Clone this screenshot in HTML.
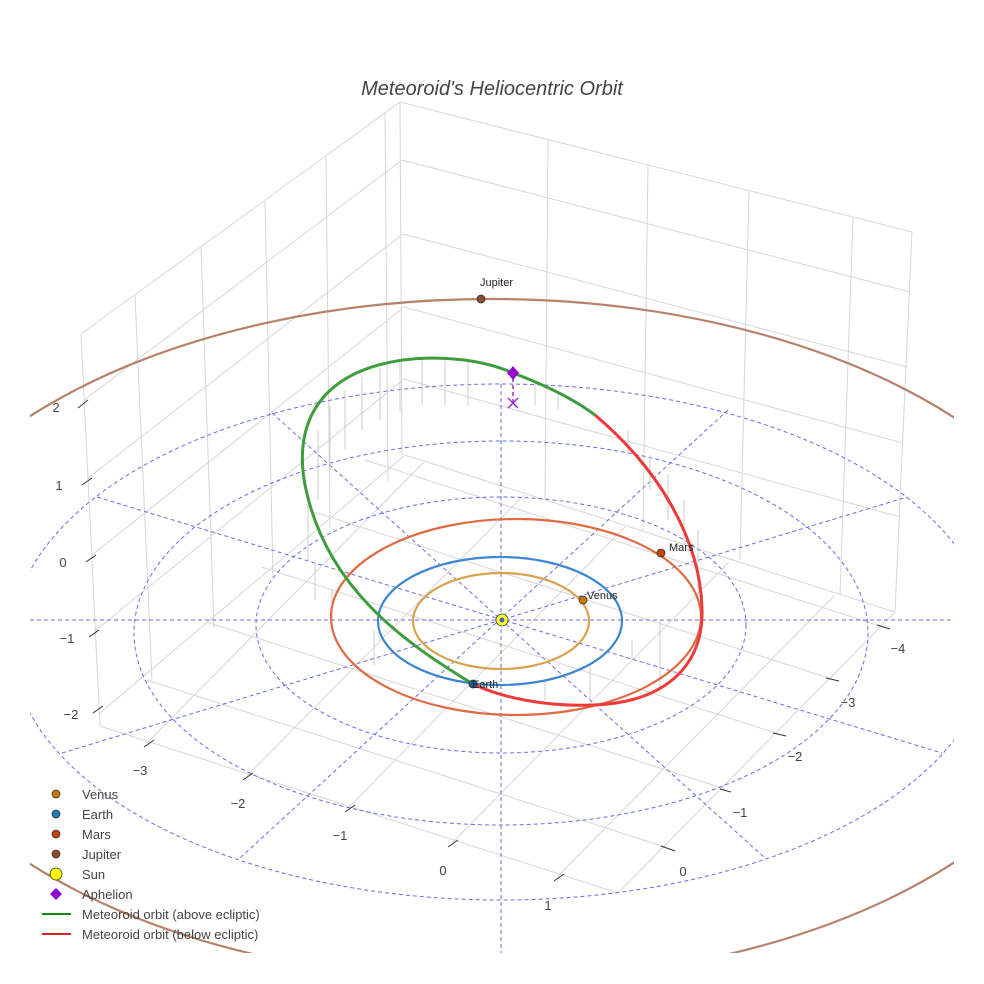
<!DOCTYPE html>
<html><head><meta charset="utf-8"><style>
html,body{margin:0;padding:0;background:#fff;}
svg{display:block;font-family:"Liberation Sans",sans-serif;}
</style></head><body>
<svg width="984" height="984" viewBox="0 0 984 984" xmlns="http://www.w3.org/2000/svg">
<defs><clipPath id="c"><rect x="30" y="0" width="924" height="953"/></clipPath></defs>
<rect width="984" height="984" fill="#fff"/>
<text x="492" y="95" text-anchor="middle" font-size="20" font-style="italic" fill="#444">Meteoroid's Heliocentric Orbit</text>
<g clip-path="url(#c)">
<!-- box walls -->
<g stroke="#d6d6d6" stroke-width="1" fill="none">
<polyline points="81,334 400,102 912,232"/>
<line x1="400" y1="102" x2="402" y2="455"/>
<line x1="81" y1="334" x2="100" y2="726"/>
<line x1="912" y1="232" x2="895" y2="612"/>
<line x1="135" y1="296" x2="152" y2="680"/>
<line x1="201" y1="248" x2="214" y2="628"/>
<line x1="265" y1="201" x2="273" y2="578"/>
<line x1="326" y1="157" x2="330" y2="528"/>
<line x1="385" y1="113" x2="388" y2="482"/>
<line x1="548" y1="140" x2="545" y2="500"/>
<line x1="648" y1="165" x2="643" y2="530"/>
<line x1="749" y1="190" x2="740" y2="560"/>
<line x1="853" y1="217" x2="840" y2="595"/>
<line x1="84" y1="400" x2="402" y2="160"/>
<line x1="88" y1="478" x2="403" y2="234"/>
<line x1="92" y1="555" x2="404" y2="307"/>
<line x1="96" y1="630" x2="404" y2="379"/>
<line x1="100" y1="713" x2="405" y2="455"/>
<line x1="402" y1="160" x2="910" y2="292"/>
<line x1="403" y1="234" x2="907" y2="367"/>
<line x1="404" y1="307" x2="903" y2="443"/>
<line x1="404" y1="379" x2="900" y2="517"/>
<line x1="405" y1="455" x2="895" y2="612"/>
<!-- floor -->
<polyline points="100,726 618,893 895,612"/>
<line x1="147" y1="743" x2="424" y2="462"/>
<line x1="247" y1="776" x2="524" y2="495"/>
<line x1="348" y1="808" x2="625" y2="527"/>
<line x1="452" y1="843" x2="729" y2="562"/>
<line x1="557" y1="877" x2="834" y2="596"/>
<line x1="665" y1="847" x2="147" y2="680"/>
<line x1="725" y1="789" x2="207" y2="622"/>
<line x1="779" y1="734" x2="261" y2="567"/>
<line x1="832" y1="679" x2="314" y2="512"/>
<line x1="883" y1="627" x2="365" y2="460"/>
</g>
<!-- ticks -->
<g stroke="#333" stroke-width="1">
<line x1="78" y1="408" x2="88" y2="400"/>
<line x1="82" y1="485" x2="92" y2="478"/>
<line x1="86" y1="562" x2="96" y2="555"/>
<line x1="89" y1="637" x2="99" y2="630"/>
<line x1="93" y1="713" x2="103" y2="706"/>
<line x1="144" y1="747" x2="154" y2="740"/>
<line x1="243" y1="780" x2="253" y2="773"/>
<line x1="345" y1="812" x2="355" y2="805"/>
<line x1="448" y1="847" x2="458" y2="840"/>
<line x1="554" y1="881" x2="564" y2="874"/>
<line x1="661" y1="846" x2="675" y2="851"/>
<line x1="720" y1="789" x2="731" y2="792"/>
<line x1="773" y1="733" x2="786" y2="736"/>
<line x1="826" y1="678" x2="839" y2="681"/>
<line x1="877" y1="625" x2="890" y2="629"/>
</g>
<g font-size="13" fill="#444" text-anchor="middle">
<text x="56" y="412">2</text><text x="59" y="490">1</text><text x="63" y="567">0</text>
<text x="67" y="643">−1</text><text x="71" y="719">−2</text>
<text x="140" y="775">−3</text><text x="238" y="808">−2</text><text x="340" y="840">−1</text>
<text x="443" y="875">0</text><text x="548" y="910">1</text>
<text x="683" y="876">0</text><text x="740" y="817">−1</text><text x="795" y="761">−2</text>
<text x="848" y="707">−3</text><text x="898" y="653">−4</text>
</g>
<!-- dashed ecliptic grid -->
<g stroke="#6a6ae6" stroke-width="1" stroke-dasharray="4,3" fill="none">
<ellipse cx="501" cy="625" rx="245" ry="128"/>
<ellipse cx="501" cy="633" rx="367" ry="192"/>
<ellipse cx="501" cy="642" rx="490" ry="258"/>
<line x1="30" y1="620" x2="954" y2="620"/>
<line x1="501" y1="384" x2="501" y2="953"/>
<line x1="272" y1="413" x2="765" y2="858"/>
<line x1="728" y1="410" x2="240" y2="858"/>
<line x1="97" y1="497" x2="942" y2="753"/>
<line x1="62" y1="753" x2="907" y2="497"/>
</g>
<!-- drop lines -->
<g stroke="#ccc" stroke-width="1">
<line x1="318" y1="430" x2="318" y2="500"/><line x1="330" y1="405" x2="330" y2="470"/>
<line x1="345" y1="390" x2="345" y2="450"/><line x1="362" y1="377" x2="362" y2="430"/>
<line x1="380" y1="368" x2="380" y2="420"/><line x1="400" y1="362" x2="400" y2="412"/>
<line x1="422" y1="359" x2="422" y2="405"/><line x1="445" y1="360" x2="445" y2="405"/>
<line x1="468" y1="362" x2="468" y2="405"/><line x1="535" y1="382" x2="535" y2="405"/>
<line x1="558" y1="393" x2="558" y2="410"/><line x1="628" y1="430" x2="628" y2="455"/>
<line x1="650" y1="455" x2="650" y2="490"/><line x1="668" y1="475" x2="668" y2="520"/>
<line x1="684" y1="500" x2="684" y2="545"/><line x1="698" y1="530" x2="698" y2="600"/>
<line x1="308" y1="500" x2="308" y2="560"/><line x1="315" y1="560" x2="315" y2="600"/>
<line x1="332" y1="590" x2="332" y2="620"/><line x1="374" y1="630" x2="374" y2="665"/>
<line x1="632" y1="640" x2="632" y2="660"/><line x1="590" y1="665" x2="590" y2="700"/>
<line x1="660" y1="620" x2="660" y2="690"/><line x1="545" y1="680" x2="545" y2="700"/>
</g>
<!-- planet orbits -->
<g fill="none" stroke-width="2.2">
<ellipse cx="491" cy="640" rx="611" ry="341" stroke="#b8826a"/>
<ellipse cx="516" cy="617" rx="185" ry="98" stroke="#e06a42"/>
<ellipse cx="500" cy="621" rx="122" ry="64" stroke="#3e86d2"/>
<ellipse cx="501" cy="621" rx="88" ry="48" stroke="#d9a24e"/>
</g>
</g>
<!-- meteoroid orbit -->
<path d="M595,415 C660,470 700,540 702,608 C704,670 660,703 593,705 C545,707 500,697 473,684" fill="none" stroke="#ee3a3a" stroke-width="3"/>
<path d="M473,684 C400,640 325,585 305,485 C290,405 340,360 430,358 C470,358 495,365 513,373 C545,385 575,400 595,415" fill="none" stroke="#3d9c3d" stroke-width="3"/>
<!-- aphelion -->
<line x1="513" y1="378" x2="513" y2="403" stroke="#9b30c9" stroke-width="1.5" stroke-dasharray="4,3"/>
<path d="M513,366 L519,373 L513,380 L507,373 Z" fill="#9400d3"/>
<path d="M508,398 L518,408 M518,398 L508,408" stroke="#9b30c9" stroke-width="1.5"/>
<!-- bodies -->
<g stroke="#333" stroke-width="0.8">
<circle cx="481" cy="299" r="4" fill="#8b4a2b"/>
<circle cx="661" cy="553" r="4" fill="#c8400e"/>
<circle cx="583" cy="600" r="4" fill="#c8780e"/>
<circle cx="473" cy="684" r="4" fill="#1f5fa0"/>
<circle cx="502" cy="620" r="6" fill="#ffff33"/>
<circle cx="502" cy="620" r="2.5" fill="#4060c0" stroke="none"/>
</g>
<g font-size="11" fill="#222">
<text x="480" y="286">Jupiter</text>
<text x="669" y="551">Mars</text>
<text x="587" y="599">Venus</text>
<text x="472" y="688">Earth</text>
</g>
<!-- legend -->
<g font-size="13" fill="#444">
<circle cx="56" cy="794" r="4" fill="#c8780e" stroke="#333" stroke-width="0.8"/><text x="82" y="799">Venus</text>
<circle cx="56" cy="814" r="4" fill="#1f77b4" stroke="#333" stroke-width="0.8"/><text x="82" y="819">Earth</text>
<circle cx="56" cy="834" r="4" fill="#c8400e" stroke="#333" stroke-width="0.8"/><text x="82" y="839">Mars</text>
<circle cx="56" cy="854" r="4" fill="#8b4a2b" stroke="#333" stroke-width="0.8"/><text x="82" y="859">Jupiter</text>
<circle cx="56" cy="874" r="6" fill="#ffff00" stroke="#333" stroke-width="0.8"/><text x="82" y="879">Sun</text>
<path d="M56,888 L62,894 L56,900 L50,894 Z" fill="#9400d3"/><text x="82" y="899">Aphelion</text>
<line x1="42" y1="914" x2="71" y2="914" stroke="#138a13" stroke-width="2"/><text x="82" y="919">Meteoroid orbit (above ecliptic)</text>
<line x1="42" y1="934" x2="71" y2="934" stroke="#dd2222" stroke-width="2"/><text x="82" y="939">Meteoroid orbit (below ecliptic)</text>
</g>
</svg>
</body></html>
